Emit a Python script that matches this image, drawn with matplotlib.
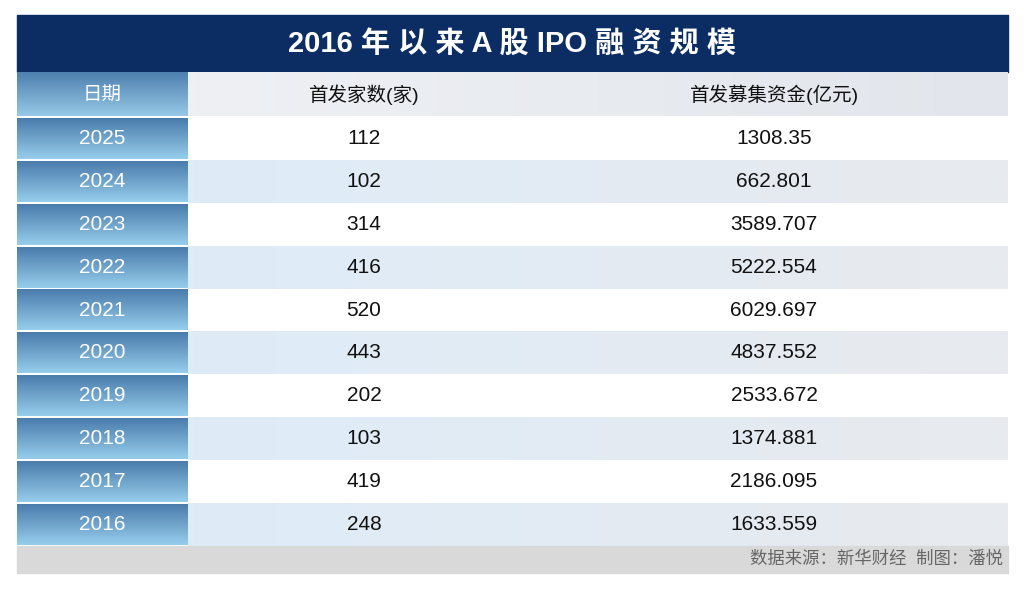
import numpy as np
import matplotlib.pyplot as plt

plt.rcParams['font.family'] = ['Liberation Sans', 'Noto Sans CJK SC', 'DejaVu Sans']

TITLE = "2016 年 以 来 A 股 IPO 融 资 规 模"
HEADERS = ["日期", "首发家数(家)", "首发募集资金(亿元)"]
YEARS = [2025, 2024, 2023, 2022, 2021, 2020, 2019, 2018, 2017, 2016]
COUNTS = [112, 102, 314, 416, 520, 443, 202, 103, 419, 248]
FUNDS = ["1308.35", "662.801", "3589.707", "5222.554", "6029.697",
         "4837.552", "2533.672", "1374.881", "2186.095", "1633.559"]
SOURCE = "数据来源：新华财经  制图：潘悦"

LEFT, RIGHT = 17, 1008
COL_X = [17, 188, 540, 1008]
ROW_TOP, ROW_H = 117, 42.9


def gradient(ax, x0, x1, y0, y1, c0, c1, vertical=True):
    c0 = np.array(c0) / 255.0
    c1 = np.array(c1) / 255.0
    t = np.linspace(0, 1, 64)
    grad = c0[None, :] + (c1 - c0)[None, :] * t[:, None]
    img = grad[:, None, :] if vertical else grad[None, :, :]
    ax.imshow(img, extent=(x0, x1, y1, y0), aspect='auto', interpolation='bilinear', zorder=1)


fig = plt.figure(figsize=(10.24, 5.89), dpi=100)
ax = fig.add_axes([0, 0, 1, 1])
ax.set_xlim(0, 1024)
ax.set_ylim(589, 0)
ax.axis('off')

# title bar
ax.fill_between([LEFT, RIGHT], 15, 72, color='#0b2d63', zorder=1)
ax.text(512, 44, TITLE, color='white', fontsize=21, fontweight='bold', ha='center', va='center', zorder=3)

# header row
gradient(ax, COL_X[0], COL_X[1], 72, 116, (78, 128, 176), (150, 200, 230))
gradient(ax, COL_X[1], RIGHT, 72, 116, (238, 240, 244), (226, 230, 236), vertical=False)
for i, h in enumerate(HEADERS):
    xc = (COL_X[i] + COL_X[i + 1]) / 2
    ax.text(xc, 95, h, color='white' if i == 0 else '#111111', fontsize=14,
            ha='center', va='center', zorder=3)

# body rows
for r, (year, count, fund) in enumerate(zip(YEARS, COUNTS, FUNDS)):
    y0 = ROW_TOP + r * ROW_H
    y1 = y0 + ROW_H
    yc = (y0 + y1) / 2
    gradient(ax, COL_X[0], COL_X[1], y0 + 1, y1 - 1, (74, 124, 172), (150, 205, 235))
    if r % 2 == 1:
        gradient(ax, COL_X[1], RIGHT, y0, y1, (222, 236, 248), (232, 234, 238), vertical=False)
    ax.text((COL_X[0] + COL_X[1]) / 2, yc, str(year), color='white', fontsize=15,
            ha='center', va='center', zorder=3)
    ax.text((COL_X[1] + COL_X[2]) / 2, yc, str(count), color='#111111', fontsize=15,
            ha='center', va='center', zorder=3)
    ax.text((COL_X[2] + COL_X[3]) / 2, yc, fund, color='#111111', fontsize=15,
            ha='center', va='center', zorder=3)

# footer
ax.fill_between([LEFT, RIGHT], 546, 573, color='#d9d9d9', zorder=1)
ax.text(1003, 559, SOURCE, color='#666666', fontsize=12.5, ha='right', va='center', zorder=3)

fig.savefig("out.png", dpi=100)
